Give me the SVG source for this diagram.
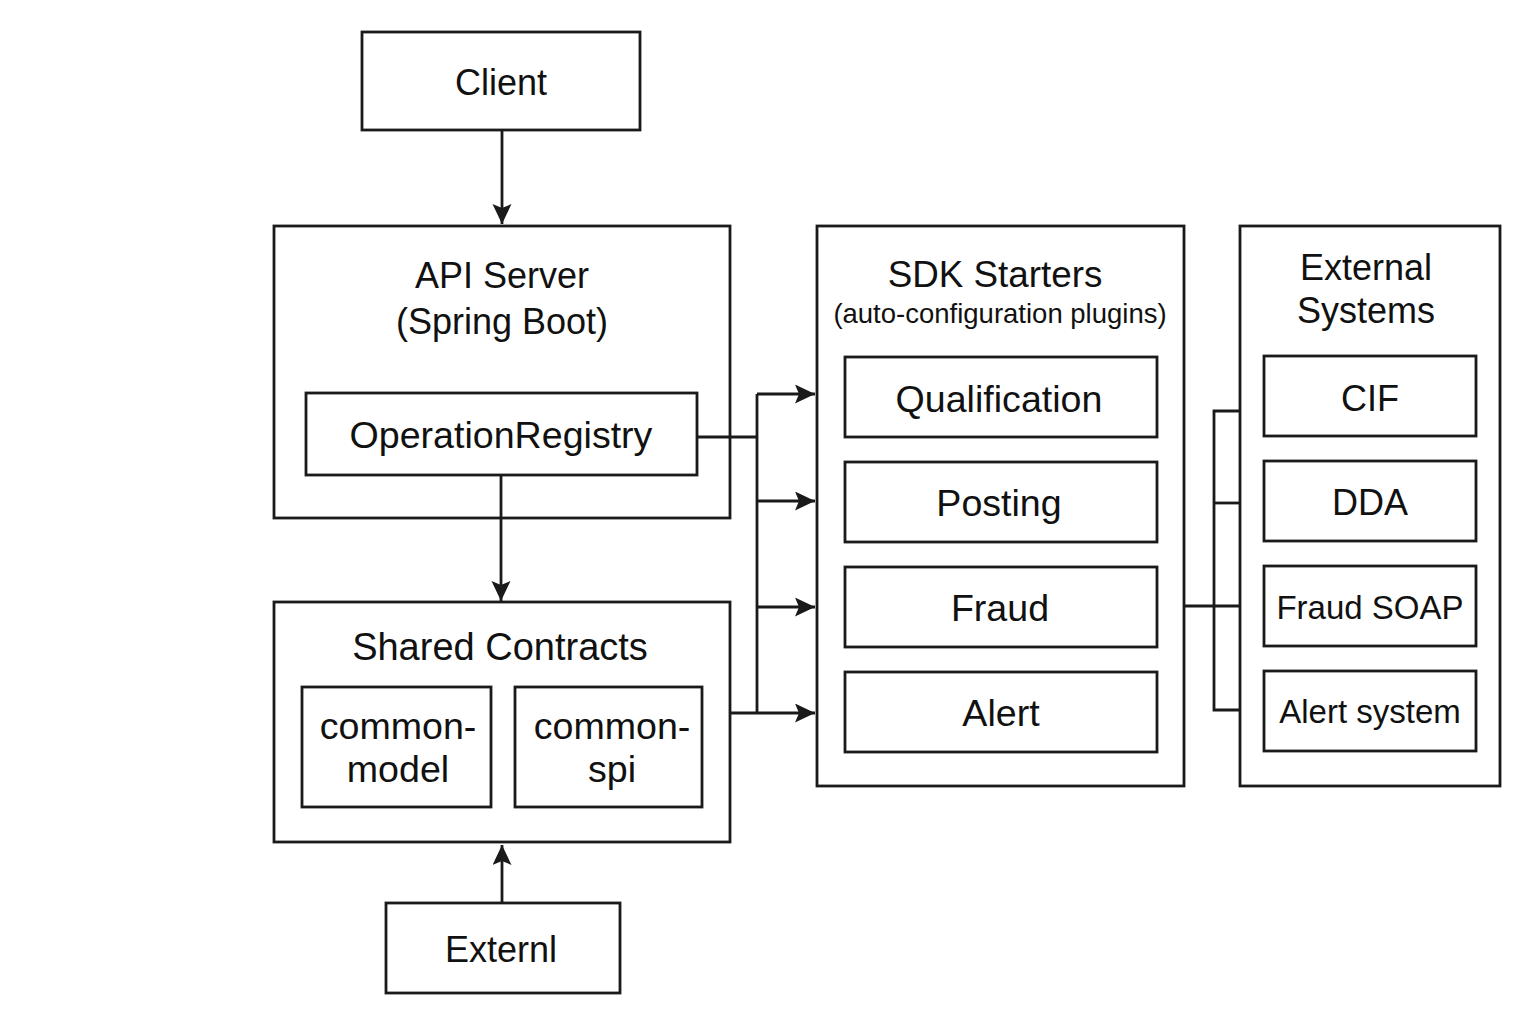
<svg xmlns="http://www.w3.org/2000/svg" width="1536" height="1024" viewBox="0 0 1536 1024">
<style>
.box{fill:#fff;stroke:#1a1a1a;stroke-width:2.8}
.t{font-family:"Liberation Sans",Arial,sans-serif;font-size:36px;fill:#111;text-anchor:middle}
.s{font-size:27.5px}
.m{font-size:33px}
.l{font-size:37.6px}
.c{fill:none;stroke:#1a1a1a;stroke-width:2.8}
</style>
<defs>
<marker id="ah" markerUnits="userSpaceOnUse" markerWidth="22" markerHeight="20" refX="20" refY="9.5" orient="auto">
<path d="M0,0 L20,9.5 L0,19 L4,9.5 z" fill="#1a1a1a"/>
</marker>
</defs>
<rect width="1536" height="1024" fill="#fff"/>

<g id="client">
<rect class="box" x="362" y="32" width="278" height="98"/>
<text class="t" x="501" y="95">Client</text>
</g>

<g id="api-server">
<rect class="box" x="274" y="226" width="456" height="292"/>
<text class="t" x="502" y="288">API Server</text>
<text class="t" x="502" y="334">(Spring Boot)</text>
</g>
<g id="operation-registry">
<rect class="box" x="306" y="393" width="391" height="82"/>
<text class="t l" x="501" y="448">OperationRegistry</text>
</g>

<g id="shared-contracts">
<rect class="box" x="274" y="602" width="456" height="240"/>
<text class="t" x="500" y="660" style="font-size:38px">Shared Contracts</text>
</g>
<g id="common-model">
<rect class="box" x="302" y="687" width="189" height="120"/>
<text class="t l" x="398" y="739">common-</text>
<text class="t l" x="398" y="782">model</text>
</g>
<g id="common-spi">
<rect class="box" x="515" y="687" width="187" height="120"/>
<text class="t l" x="612" y="739">common-</text>
<text class="t l" x="612" y="782">spi</text>
</g>

<g id="externl">
<rect class="box" x="386" y="903" width="234" height="90"/>
<text class="t" x="501" y="962">Externl</text>
</g>

<g id="sdk-starters">
<rect class="box" x="817" y="226" width="367" height="560"/>
<text class="t" x="995" y="287" style="font-size:36.8px">SDK Starters</text>
<text class="t s" x="1000" y="323">(auto-configuration plugins)</text>
</g>
<g id="qualification">
<rect class="box" x="845" y="357" width="312" height="80"/>
<text class="t l" x="999" y="412">Qualification</text>
</g>
<g id="posting">
<rect class="box" x="845" y="462" width="312" height="80"/>
<text class="t l" x="999" y="516">Posting</text>
</g>
<g id="fraud">
<rect class="box" x="845" y="567" width="312" height="80"/>
<text class="t l" x="1000" y="621">Fraud</text>
</g>
<g id="alert">
<rect class="box" x="845" y="672" width="312" height="80"/>
<text class="t l" x="1001" y="726">Alert</text>
</g>

<g id="external-systems">
<rect class="box" x="1240" y="226" width="260" height="560"/>
<text class="t" x="1366" y="280">External</text>
<text class="t" x="1366" y="323">Systems</text>
</g>
<g id="cif">
<rect class="box" x="1264" y="356" width="212" height="80"/>
<text class="t" x="1370" y="411">CIF</text>
</g>
<g id="dda">
<rect class="box" x="1264" y="461" width="212" height="80"/>
<text class="t" x="1370" y="515">DDA</text>
</g>
<g id="fraud-soap">
<rect class="box" x="1264" y="566" width="212" height="80"/>
<text class="t m" x="1370" y="619">Fraud SOAP</text>
</g>
<g id="alert-system">
<rect class="box" x="1264" y="671" width="212" height="80"/>
<text class="t m" x="1370" y="723">Alert system</text>
</g>

<g id="connectors">
<line class="c" x1="502" y1="130" x2="502" y2="224" marker-end="url(#ah)"/>
<line class="c" x1="501" y1="475" x2="501" y2="601" marker-end="url(#ah)"/>
<line class="c" x1="502" y1="903" x2="502" y2="845" marker-end="url(#ah)"/>
<polyline class="c" points="697,437 757,437"/>
<polyline class="c" points="757,394 757,713"/>
<line class="c" x1="757" y1="394" x2="815" y2="394" marker-end="url(#ah)"/>
<line class="c" x1="757" y1="501" x2="815" y2="501" marker-end="url(#ah)"/>
<line class="c" x1="757" y1="607" x2="815" y2="607" marker-end="url(#ah)"/>
<line class="c" x1="730" y1="713" x2="815" y2="713" marker-end="url(#ah)"/>
<polyline class="c" points="1240,411 1214,411 1214,710 1240,710"/>
<line class="c" x1="1214" y1="503" x2="1240" y2="503"/>
<line class="c" x1="1184" y1="606" x2="1240" y2="606"/>
</g>
</svg>
